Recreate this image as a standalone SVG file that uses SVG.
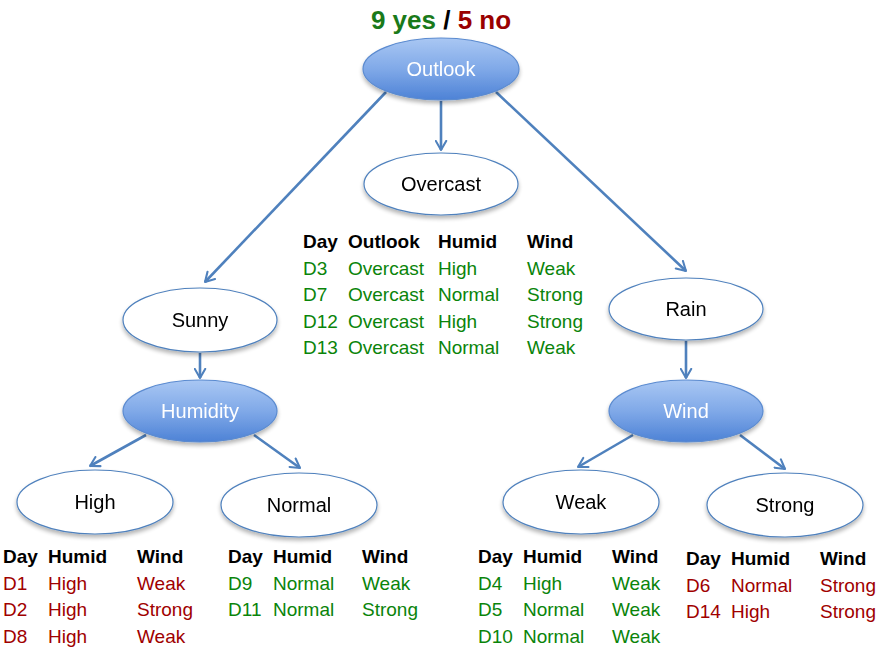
<svg xmlns="http://www.w3.org/2000/svg" width="896" height="652" viewBox="0 0 896 652">
<defs>
<linearGradient id="blue" x1="0" y1="0" x2="0" y2="1">
<stop offset="0" stop-color="#a9c7f3"/>
<stop offset="0.5" stop-color="#80a9e8"/>
<stop offset="1" stop-color="#4d82d6"/>
</linearGradient>
<filter id="sh" x="-20%" y="-20%" width="140%" height="150%">
<feGaussianBlur in="SourceAlpha" stdDeviation="2"/>
<feOffset dx="0" dy="3"/>
<feComponentTransfer><feFuncA type="linear" slope="0.3"/></feComponentTransfer>
<feMerge><feMergeNode/><feMergeNode in="SourceGraphic"/></feMerge>
</filter>
<marker id="arr" viewBox="0 0 10 10" refX="8" refY="5" markerWidth="5" markerHeight="5" orient="auto" markerUnits="strokeWidth">
<path d="M1,1 L8,5 L1,9" fill="none" stroke="#4f81bd" stroke-width="1.6" stroke-linecap="round" stroke-linejoin="round"/>
</marker>
</defs>
<style>
text{font-family:"Liberation Sans",Arial,sans-serif;font-size:19px}
.w{fill:#fff;stroke:#4f81bd;stroke-width:1.2}
.b{fill:url(#blue);stroke:#5b8bd0;stroke-width:1.2}
.lbl{text-anchor:middle;fill:#000;font-size:20px}
.lblw{text-anchor:middle;fill:#fff;font-size:20px}
.h{font-weight:bold;fill:#000}
.g{fill:#0a840a}
.r{fill:#a00000}
.c line{stroke:#4f81bd;stroke-width:2.6;marker-end:url(#arr)}
</style>
<g id="title" font-weight="bold">
<text x="441" y="29" text-anchor="middle" style="font-size:26px;font-weight:bold"><tspan fill="#1a7a1a">9 yes</tspan><tspan fill="#000"> / </tspan><tspan fill="#9a0000">5 no</tspan></text>
</g>
<g class="c" id="connectors">
<line x1="386" y1="92" x2="205" y2="282"/>
<line x1="441" y1="101" x2="441" y2="150"/>
<line x1="496" y1="92" x2="686" y2="271"/>
<line x1="200" y1="353" x2="200" y2="378"/>
<line x1="686" y1="341" x2="686" y2="378"/>
<line x1="146" y1="435" x2="90" y2="466"/>
<line x1="254" y1="435" x2="300" y2="468"/>
<line x1="633" y1="435" x2="578" y2="467"/>
<line x1="740" y1="435" x2="785" y2="469"/>
</g>
<g id="outlook" filter="url(#sh)"><ellipse class="b" cx="441" cy="69" rx="78" ry="31"/><text class="lblw" x="441" y="76">Outlook</text></g>
<g id="overcast" filter="url(#sh)"><ellipse class="w" cx="441" cy="184" rx="77" ry="31"/><text class="lbl" x="441" y="191">Overcast</text></g>
<g id="sunny" filter="url(#sh)"><ellipse class="w" cx="200" cy="320" rx="77" ry="32"/><text class="lbl" x="200" y="327">Sunny</text></g>
<g id="rain" filter="url(#sh)"><ellipse class="w" cx="686" cy="309" rx="77" ry="31"/><text class="lbl" x="686" y="316">Rain</text></g>
<g id="humidity" filter="url(#sh)"><ellipse class="b" cx="200" cy="411" rx="77" ry="31"/><text class="lblw" x="200" y="418">Humidity</text></g>
<g id="wind" filter="url(#sh)"><ellipse class="b" cx="686" cy="411" rx="77" ry="31"/><text class="lblw" x="686" y="418">Wind</text></g>
<g id="high" filter="url(#sh)"><ellipse class="w" cx="95" cy="502" rx="78" ry="32"/><text class="lbl" x="95" y="509">High</text></g>
<g id="normal" filter="url(#sh)"><ellipse class="w" cx="299" cy="505" rx="78" ry="32"/><text class="lbl" x="299" y="512">Normal</text></g>
<g id="weak" filter="url(#sh)"><ellipse class="w" cx="581" cy="502" rx="78" ry="32"/><text class="lbl" x="581" y="509">Weak</text></g>
<g id="strong" filter="url(#sh)"><ellipse class="w" cx="785" cy="505" rx="78" ry="32"/><text class="lbl" x="785" y="512">Strong</text></g>
<g id="table-overcast">
<text class="h" x="303" y="248">Day</text><text class="h" x="348" y="248">Outlook</text><text class="h" x="438" y="248">Humid</text><text class="h" x="527" y="248">Wind</text>
<g class="g">
<text x="303" y="275">D3</text><text x="348" y="275">Overcast</text><text x="438" y="275">High</text><text x="527" y="275">Weak</text>
<text x="303" y="301">D7</text><text x="348" y="301">Overcast</text><text x="438" y="301">Normal</text><text x="527" y="301">Strong</text>
<text x="303" y="328">D12</text><text x="348" y="328">Overcast</text><text x="438" y="328">High</text><text x="527" y="328">Strong</text>
<text x="303" y="354">D13</text><text x="348" y="354">Overcast</text><text x="438" y="354">Normal</text><text x="527" y="354">Weak</text>
</g>
</g>
<g id="table-high">
<text class="h" x="3" y="563">Day</text><text class="h" x="48" y="563">Humid</text><text class="h" x="137" y="563">Wind</text>
<g class="r">
<text x="3" y="590">D1</text><text x="48" y="590">High</text><text x="137" y="590">Weak</text>
<text x="3" y="616">D2</text><text x="48" y="616">High</text><text x="137" y="616">Strong</text>
<text x="3" y="643">D8</text><text x="48" y="643">High</text><text x="137" y="643">Weak</text>
</g>
</g>
<g id="table-normal">
<text class="h" x="228" y="563">Day</text><text class="h" x="273" y="563">Humid</text><text class="h" x="362" y="563">Wind</text>
<g class="g">
<text x="228" y="590">D9</text><text x="273" y="590">Normal</text><text x="362" y="590">Weak</text>
<text x="228" y="616">D11</text><text x="273" y="616">Normal</text><text x="362" y="616">Strong</text>
</g>
</g>
<g id="table-weak">
<text class="h" x="478" y="563">Day</text><text class="h" x="523" y="563">Humid</text><text class="h" x="612" y="563">Wind</text>
<g class="g">
<text x="478" y="590">D4</text><text x="523" y="590">High</text><text x="612" y="590">Weak</text>
<text x="478" y="616">D5</text><text x="523" y="616">Normal</text><text x="612" y="616">Weak</text>
<text x="478" y="643">D10</text><text x="523" y="643">Normal</text><text x="612" y="643">Weak</text>
</g>
</g>
<g id="table-strong">
<text class="h" x="686" y="565">Day</text><text class="h" x="731" y="565">Humid</text><text class="h" x="820" y="565">Wind</text>
<g class="r">
<text x="686" y="592">D6</text><text x="731" y="592">Normal</text><text x="820" y="592">Strong</text>
<text x="686" y="618">D14</text><text x="731" y="618">High</text><text x="820" y="618">Strong</text>
</g>
</g>
</svg>
